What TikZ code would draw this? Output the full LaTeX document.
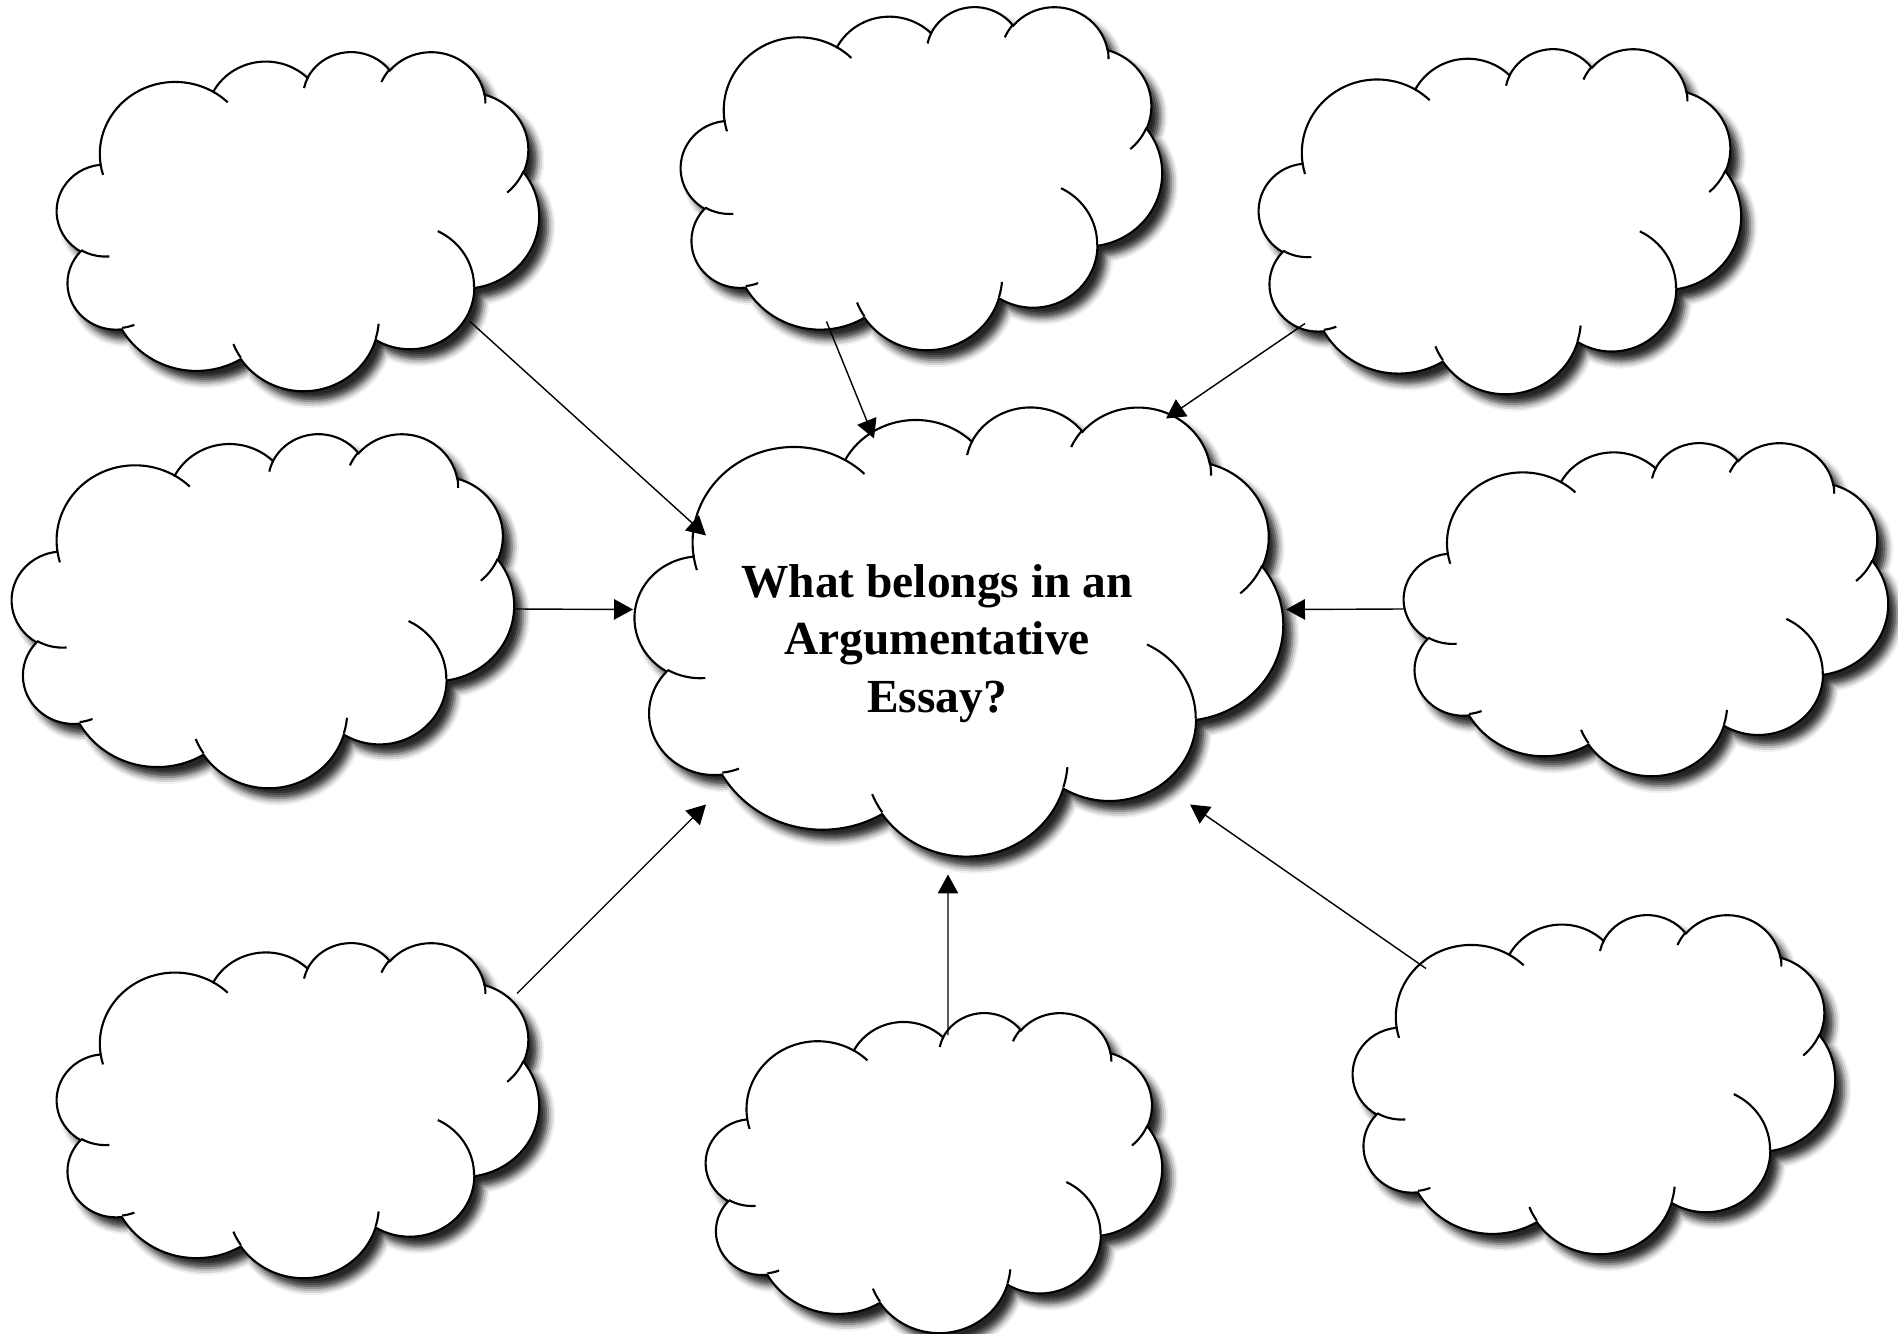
\documentclass[tikz,border=0pt]{standalone}
\usepackage{fontspec}
\setmainfont{Liberation Serif}
\usetikzlibrary{calc,arrows.meta,shadows,shadows.blur}

\tikzset{
	declare function={pa(\a,\w,\h)=atan2(\w*sin(\a),\h*cos(\a));},
	oa/.style n args={4}{x radius=#1,y radius=#2,start angle={pa(#3,#1,#2)},
		delta angle={Mod(pa(#3+#4,#1,#2)-pa(#3,#1,#2)-#4+180,360)-180+#4}},
	cloudfill/.style={fill=white,draw=black,line width=0.6pt,
		blur shadow={shadow xshift=0.09cm,shadow yshift=-0.1cm,shadow blur radius=0.07cm,shadow opacity=85}},
	cloudline/.style={draw=black,line width=0.6pt},
	arr/.style={-{Triangle[length=5.4pt,width=5.8pt]},line width=0.4pt},
	pics/wcloud/.style 2 args={code={
		\begin{scope}[shift={(-#1/2,#2/2)},xscale=#1/43.2,yscale=-#2/43.2]
			\path[cloudfill] (3.9,14.37) arc[oa={6.753}{9.19}{-190.4875}{123.7805}]
				arc[oa={5.333}{7.267}{-144.1024}{89.9452}]
				arc[oa={4.365}{5.945}{-145.8079}{99.723}]
				arc[oa={4.857}{6.595}{-130.9861}{117.2417}]
				arc[oa={5.333}{7.273}{-78.7089}{109.0269}]
				arc[oa={6.775}{9.22}{-46.2673}{130.269}]
				arc[oa={5.785}{7.867}{0.625}{114.0333}]
				arc[oa={6.752}{9.215}{22.4516}{115.1726}]
				arc[oa={7.72}{10.543}{66.2426}{75.711}]
				arc[oa={4.36}{5.918}{-274.9421}{146.7356}]
				arc[oa={4.345}{5.945}{-246.8285}{152.5189}] -- cycle;
			\path[cloudline] (4.693,26.177) arc[oa={4.345}{5.945}{86.742}{26.4295}]
				(6.928,34.899) arc[oa={4.36}{5.918}{73.6105}{11.4475}]
				(16.478,39.09) arc[oa={6.752}{9.215}{137.6242}{14.0811}]
				(28.827,34.751) arc[oa={6.752}{9.215}{6.4533}{15.9984}]
				(34.129,22.954) arc[oa={5.785}{7.867}{-70.2924}{70.9174}]
				(41.798,15.354) arc[oa={5.333}{7.273}{30.318}{27.7515}]
				(38.324,5.426) arc[oa={4.857}{6.595}{-13.7443}{14.8589}]
				(29.078,3.952) arc[oa={4.857}{6.595}{-149.1815}{18.1954}]
				(22.141,4.72) arc[oa={4.365}{5.945}{-163.4943}{17.6864}]
				(14.0,5.192) arc[oa={6.753}{9.19}{-66.707}{12.3194}]
				(4.127,15.789) arc[oa={6.753}{9.19}{157.6544}{11.8582}];
		\end{scope}
	}}
}

\begin{document}
\begin{tikzpicture}
	\useasboundingbox (0,0) rectangle (18.98,-13.34);
	\coordinate (tl) at (2.98,-2.205);
	\coordinate (tc) at (9.215,-1.775);
	\coordinate (tr) at (15.00,-2.205);
	\coordinate (ml) at (2.63,-6.10);
	\coordinate (main) at (9.59,-6.305);
	\coordinate (mr) at (16.46,-6.085);
	\coordinate (bl) at (2.98,-11.095);
	\coordinate (bc) at (9.34,-11.72);
	\coordinate (br) at (15.94,-10.835);
	\pic at (tl) {wcloud={4.82}{3.39}};
	\pic at (tc) {wcloud={4.81}{3.43}};
	\pic at (tr) {wcloud={4.82}{3.45}};
	\pic at (ml) {wcloud={5.02}{3.54}};
	\pic at (main) {wcloud={6.48}{4.49}};
	\pic at (mr) {wcloud={4.84}{3.33}};
	\pic at (bl) {wcloud={4.82}{3.35}};
	\pic at (bc) {wcloud={4.56}{3.20}};
	\pic at (br) {wcloud={4.82}{3.39}};
	\node[font=\bfseries\fontsize{13.5}{16.3}\selectfont,align=center] (q) at ($(main)+(-0.22,-0.13)$) {What belongs in an\\Argumentative\\Essay?};
	\draw[arr] ($(tl)+(1.72,-1.01)$) -- ($(main)+(-2.53,0.95)$);
	\draw[arr] ($(tc)+(-0.95,-1.44)$) -- ($(main)+(-0.85,1.92)$);
	\draw[arr] ($(tr)+(-1.95,-1.03)$) -- ($(main)+(2.07,2.12)$);
	\draw[arr] ($(ml)+(2.51,0.01)$) -- ($(main)+(-3.26,0.21)$);
	\draw[arr] ($(mr)+(-2.42,-0.005)$) -- ($(main)+(3.27,0.21)$);
	\draw[arr] ($(bl)+(2.19,1.16)$) -- ($(main)+(-2.53,-1.74)$);
	\draw[arr] ($(bc)+(0.14,1.37)$) -- ($(main)+(-0.11,-2.44)$);
	\draw[arr] ($(br)+(-1.68,1.15)$) -- ($(main)+(2.31,-1.74)$);
\end{tikzpicture}
\end{document}
